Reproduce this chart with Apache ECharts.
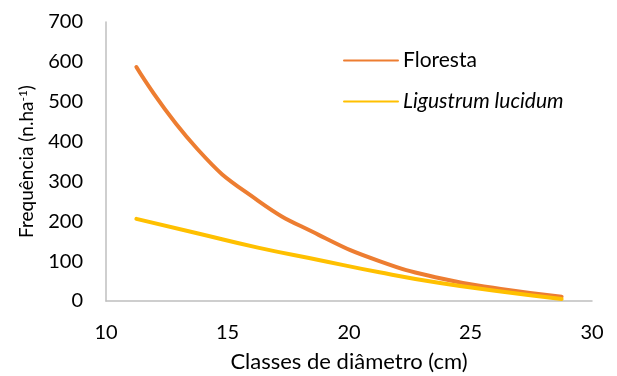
<!DOCTYPE html>
<html>
<head>
<meta charset="utf-8">
<script src="https://cdn.jsdelivr.net/npm/echarts@6/dist/echarts.min.js"></script>
<style>
  html, body { margin: 0; padding: 0; background: #fff; }
  #main { width: 617px; height: 376px; }
</style>
</head>
<body>
<div id="main"></div>
<script>
// diameter class midpoints (cm)
const classes = [11.25, 13.75, 16.25, 18.75, 21.25, 23.75, 26.25, 28.75];
const floresta = [587, 382, 252, 166, 100, 57, 30, 11];
const ligustrum = [206, 170, 134, 103, 72, 45, 24, 5];

const chart = echarts.init(document.getElementById("main"));
const font = "Lato, 'Liberation Sans', sans-serif";

const option = {
  animation: false,
  textStyle: { fontFamily: font },
  grid: { left: 106, right: 25, top: 22, bottom: 75, outerBoundsMode: "none" },
  legend: {
    orient: "vertical",
    left: 343,
    top: 50,
    padding: 0,
    itemWidth: 54,
    itemHeight: 20,
    itemGap: 20,
    itemStyle: { opacity: 0 },
    textStyle: { fontFamily: font, fontSize: 21, color: "#000" },
    data: [
      { name: "Floresta" },
      { name: "Ligustrum lucidum", textStyle: { fontStyle: "italic" } },
    ],
  },
  xAxis: {
    type: "value",
    min: 10,
    max: 30,
    interval: 5,
    name: "Classes de diâmetro (cm)",
    nameLocation: "middle",
    nameGap: 50,
    nameTextStyle: { fontFamily: font, fontSize: 22, color: "#000" },
    axisLine: { show: true, lineStyle: { color: "#BFBFBF", width: 1.5 } },
    axisTick: { show: false },
    splitLine: { show: false },
    axisLabel: { fontFamily: font, fontSize: 20, color: "#000", margin: 22 },
  },
  yAxis: {
    type: "value",
    min: 0,
    max: 700,
    interval: 100,
    name: "{t|Frequência (n.ha}{s|-1}{t|)}",
    nameLocation: "middle",
    nameGap: 69,
    nameTextStyle: {
      rich: {
        t: { fontFamily: font, fontSize: 19, color: "#000" },
        s: { fontFamily: font, fontSize: 12, color: "#000", verticalAlign: "top", padding: [0, 0, 8, 0] },
      },
    },
    axisLine: { show: true, lineStyle: { color: "#BFBFBF", width: 1.5 } },
    axisTick: { show: false },
    splitLine: { show: false },
    axisLabel: { fontFamily: font, fontSize: 20, color: "#000", margin: 23 },
  },
  series: [
    {
      name: "Floresta",
      type: "line",
      smooth: 0.5,
      symbol: "none",
      data: classes.map((c, i) => [c, floresta[i]]),
      lineStyle: { color: "#ED7D31", width: 4, cap: "round" },
      itemStyle: { color: "#ED7D31" },
    },
    {
      name: "Ligustrum lucidum",
      type: "line",
      smooth: 0.5,
      symbol: "none",
      data: classes.map((c, i) => [c, ligustrum[i]]),
      lineStyle: { color: "#FFC000", width: 4, cap: "round" },
      itemStyle: { color: "#FFC000" },
    },
  ],
};

chart.setOption(option);
</script>
</body>
</html>
